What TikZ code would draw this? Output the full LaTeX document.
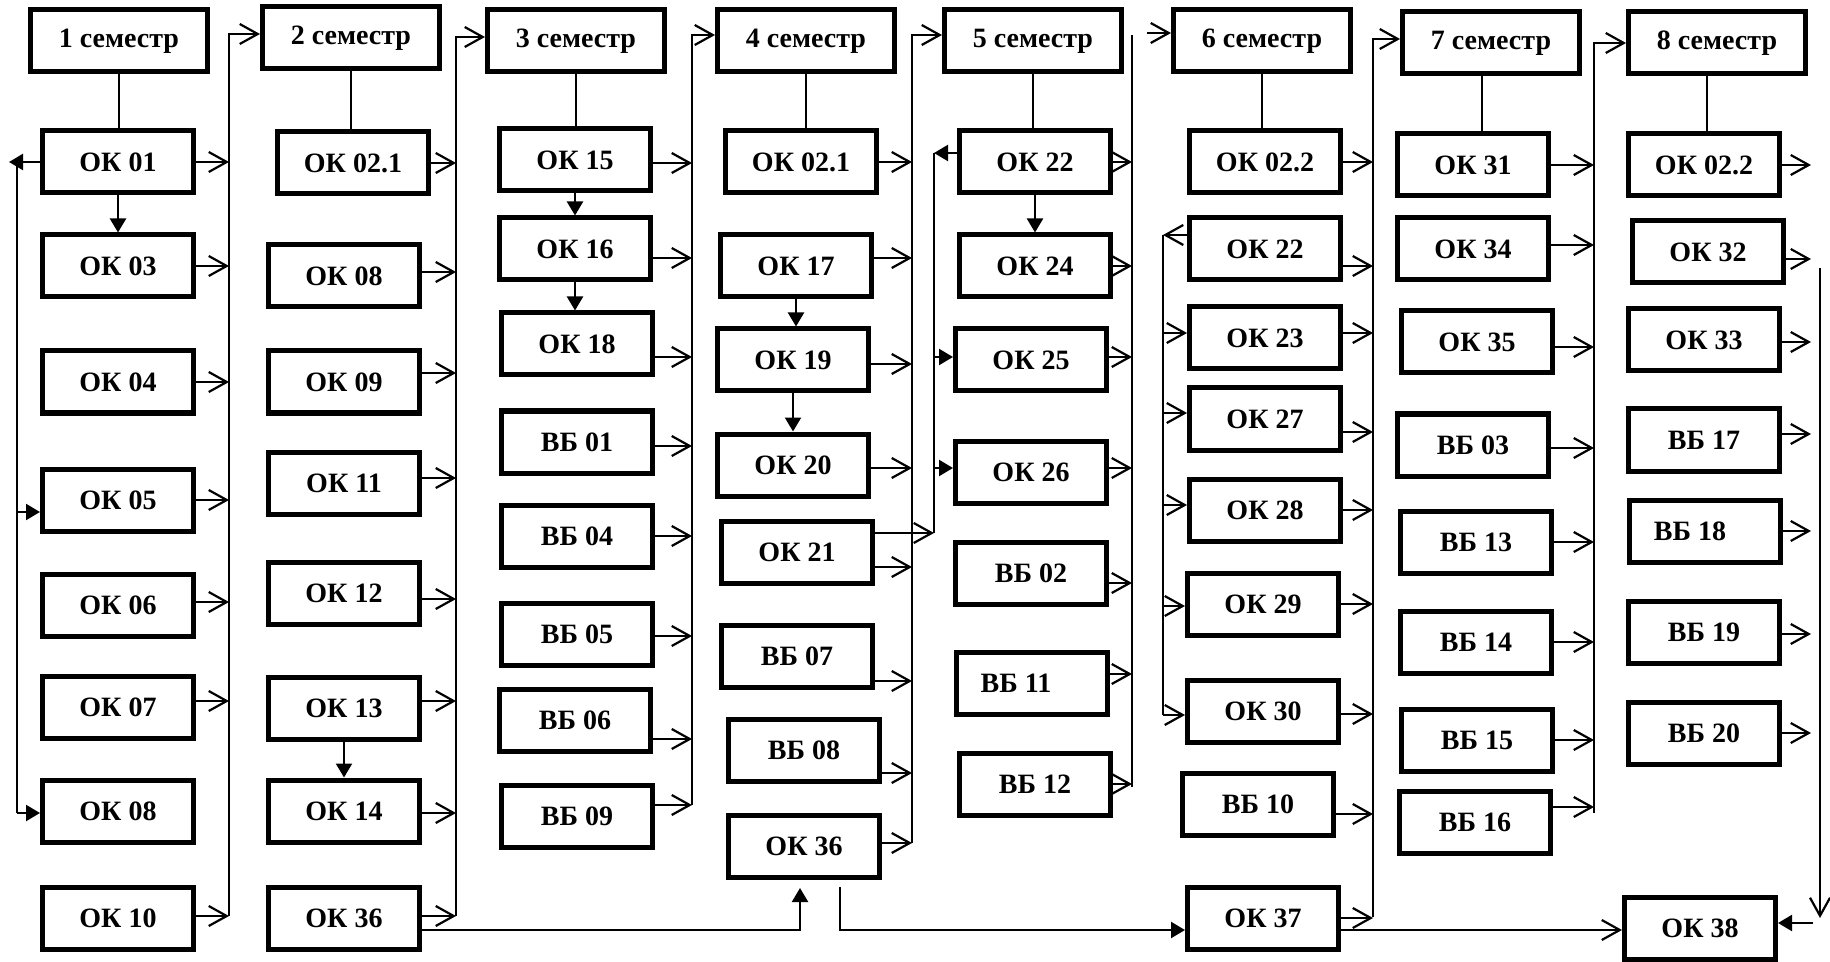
\documentclass[tikz,border=0pt]{standalone}
\usepackage{fontspec}
\setmainfont{Liberation Serif}
\usepackage{tikz}
\usetikzlibrary{arrows.meta}

\begin{document}
\begin{tikzpicture}[x=0.5pt, y=-0.5pt]
	\tikzstyle{box} = [rectangle, minimum width=75.5pt, minimum height=31pt, 
	inner sep=0pt, text centered, draw=black, line width=2.5pt, 
	font=\fontsize{14}{16}\selectfont\bfseries]
	\tikzstyle{semester} = [box, minimum width=88.5pt]
	\tikzstyle{bus} = [line width=1.1pt]
	\tikzstyle{arrow} = [bus, -{Straight Barb[length=9pt,width=10pt]}]
	\tikzstyle{fillarrow} = [bus, -{Triangle[length=7pt,width=8pt]}]
	\useasboundingbox (0,0) rectangle (1830,962);
	% semester 1
	\node (sem1) [semester] at (119,41) {1 семестр};
	\node (ok01) [box] at (118,162) {ОК 01};
	\node (ok03) [box] at (118,266) {ОК 03};
	\node (ok04) [box] at (118,382) {ОК 04};
	\node (ok05) [box] at (118,500) {ОК 05};
	\node (ok06) [box] at (118,605) {ОК 06};
	\node (ok07) [box] at (118,707) {ОК 07};
	\node (ok08a) [box] at (118,811) {ОК 08};
	\node (ok10) [box] at (118,918) {ОК 10};
	% semester 2
	\node (sem2) [semester] at (351,38) {2 семестр};
	\node (ok021a) [box] at (353,163) {ОК 02.1};
	\node (ok08b) [box] at (344,276) {ОК 08};
	\node (ok09) [box] at (344,382) {ОК 09};
	\node (ok11) [box] at (344,483) {ОК 11};
	\node (ok12) [box] at (344,593) {ОК 12};
	\node (ok13) [box] at (344,708) {ОК 13};
	\node (ok14) [box] at (344,811) {ОК 14};
	\node (ok36a) [box] at (344,918) {ОК 36};
	% semester 3
	\node (sem3) [semester] at (576,41) {3 семестр};
	\node (ok15) [box] at (575,160) {ОК 15};
	\node (ok16) [box] at (575,249) {ОК 16};
	\node (ok18) [box] at (577,344) {ОК 18};
	\node (vb01) [box] at (577,442) {ВБ 01};
	\node (vb04) [box] at (577,536) {ВБ 04};
	\node (vb05) [box] at (577,634) {ВБ 05};
	\node (vb06) [box] at (575,720) {ВБ 06};
	\node (vb09) [box] at (577,816) {ВБ 09};
	% semester 4
	\node (sem4) [semester] at (806,41) {4 семестр};
	\node (ok021b) [box] at (801,162) {ОК 02.1};
	\node (ok17) [box] at (796,266) {ОК 17};
	\node (ok19) [box] at (793,360) {ОК 19};
	\node (ok20) [box] at (793,465) {ОК 20};
	\node (ok21) [box] at (797,552) {ОК 21};
	\node (vb07) [box] at (797,656) {ВБ 07};
	\node (vb08) [box] at (804,750) {ВБ 08};
	\node (ok36b) [box] at (804,846) {ОК 36};
	% semester 5
	\node (sem5) [semester] at (1033,41) {5 семестр};
	\node (ok22a) [box] at (1035,162) {ОК 22};
	\node (ok24) [box] at (1035,266) {ОК 24};
	\node (ok25) [box] at (1031,360) {ОК 25};
	\node (ok26) [box] at (1031,472) {ОК 26};
	\node (vb02) [box] at (1031,573) {ВБ 02};
	\node (vb11) [box] at (1032,683) {ВБ 11\hspace*{16pt}};
	\node (vb12) [box] at (1035,784) {ВБ 12};
	% semester 6
	\node (sem6) [semester] at (1262,41) {6 семестр};
	\node (ok022a) [box] at (1265,162) {ОК 02.2};
	\node (ok22b) [box] at (1265,249) {ОК 22};
	\node (ok23) [box] at (1265,338) {ОК 23};
	\node (ok27) [box] at (1265,419) {ОК 27};
	\node (ok28) [box] at (1265,510) {ОК 28};
	\node (ok29) [box] at (1263,604) {ОК 29};
	\node (ok30) [box] at (1263,711) {ОК 30};
	\node (vb10) [box] at (1258,804) {ВБ 10};
	\node (ok37) [box] at (1263,918) {ОК 37};
	% semester 7
	\node (sem7) [semester] at (1491,43) {7 семестр};
	\node (ok31) [box] at (1473,165) {ОК 31};
	\node (ok34) [box] at (1473,249) {ОК 34};
	\node (ok35) [box] at (1477,342) {ОК 35};
	\node (vb03) [box] at (1473,445) {ВБ 03};
	\node (vb13) [box] at (1476,542) {ВБ 13};
	\node (vb14) [box] at (1476,642) {ВБ 14};
	\node (vb15) [box] at (1477,740) {ВБ 15};
	\node (vb16) [box] at (1475,822) {ВБ 16};
	% semester 8
	\node (sem8) [semester] at (1717,43) {8 семестр};
	\node (ok022b) [box] at (1704,165) {ОК 02.2};
	\node (ok32) [box] at (1708,252) {ОК 32};
	\node (ok33) [box] at (1704,340) {ОК 33};
	\node (vb17) [box] at (1704,440) {ВБ 17};
	\node (vb18) [box] at (1705,531) {ВБ 18\hspace*{15pt}};
	\node (vb19) [box] at (1704,632) {ВБ 19};
	\node (vb20) [box] at (1704,733) {ВБ 20};
	\node (ok38) [box] at (1700,928) {ОК 38};
	% bus lines
	\coordinate (bus1) at (229,34);  \coordinate (bus1end) at (229,916);
	\coordinate (bus2) at (456,37);  \coordinate (bus2end) at (456,916);
	\coordinate (bus3) at (692,35);  \coordinate (bus3end) at (692,805);
	\coordinate (bus4) at (912,35);  \coordinate (bus4end) at (912,843);
	\coordinate (bus5) at (1132,35); \coordinate (bus5end) at (1132,787);
	\coordinate (jump5) at (1147,33);
	\coordinate (bus6) at (1373,39); \coordinate (bus6end) at (1373,917);
	\coordinate (bus7) at (1594,43); \coordinate (bus7end) at (1594,813);
	\coordinate (bus8) at (1820,268); \coordinate (bus8end) at (1820,918);
	\coordinate (stop8) at (1811,0);
	\coordinate (loop1) at (17,165); \coordinate (loop1end) at (17,813);
	\coordinate (loop1tip) at (9,162);
	\coordinate (loop5) at (934,153); \coordinate (loop5end) at (934,533);
	\coordinate (loop6) at (1163,235); \coordinate (loop6end) at (1163,715);
	\coordinate (up36) at (800,888);
	\coordinate (down36) at (840,887);
	\coordinate (tip38) at (1813,923);
	\draw [arrow] (bus1end) -- (bus1) -- (bus1 -| sem2.west);
	\draw [arrow] (bus2end) -- (bus2) -- (bus2 -| sem3.west);
	\draw [arrow] (bus3end) -- (bus3) -- (bus3 -| sem4.west);
	\draw [arrow] (bus4end) -- (bus4) -- (bus4 -| sem5.west);
	\draw [bus] (bus5end) -- (bus5);
	\draw [arrow] (jump5) -- (jump5 -| sem6.west);
	\draw [arrow] (bus6end) -- (bus6) -- (bus6 -| sem7.west);
	\draw [arrow] (bus7end) -- (bus7) -- (bus7 -| sem8.west);
	\draw [arrow] (bus8) -- (bus8end);
	% semester to first course
	\draw [bus] (sem1.south) -- (sem1.south |- ok01.north);
	\draw [bus] (sem2.south) -- (sem2.south |- ok021a.north);
	\draw [bus] (sem3.south) -- (sem3.south |- ok15.north);
	\draw [bus] (sem4.south) -- (sem4.south |- ok021b.north);
	\draw [bus] (sem5.south) -- (sem5.south |- ok22a.north);
	\draw [bus] (sem6.south) -- (sem6.south |- ok022a.north);
	\draw [bus] ([xshift=-4.5pt]sem7.south) -- ([xshift=-4.5pt]sem7.south |- ok31.north);
	\draw [bus] ([xshift=-5pt]sem8.south) -- ([xshift=-5pt]sem8.south |- ok022b.north);
	% vertical links
	\draw [fillarrow] (ok01.south) -- (ok01.south |- ok03.north);
	\draw [fillarrow] (ok13.south) -- (ok13.south |- ok14.north);
	\draw [fillarrow] (ok15.south) -- (ok15.south |- ok16.north);
	\draw [fillarrow] (ok16.south) -- (ok16.south |- ok18.north);
	\draw [fillarrow] (ok17.south) -- (ok17.south |- ok19.north);
	\draw [fillarrow] (ok19.south) -- (ok19.south |- ok20.north);
	\draw [fillarrow] (ok22a.south) -- (ok22a.south |- ok24.north);
	% left loops
	\draw [fillarrow] (ok01.west) -- (loop1tip);
	\draw [bus] (loop1) -- (loop1end);
	\draw [fillarrow] ([yshift=-6pt]ok05.west -| loop1) -- ([yshift=-6pt]ok05.west);
	\draw [fillarrow] (loop1end) -- (loop1end -| ok08a.west);
	\draw [fillarrow] ([yshift=4.5pt]ok22a.west) -- ([yshift=4.5pt]ok22a.west -| loop5);
	\draw [bus] (loop5) -- (loop5end);
	\draw [fillarrow] ([yshift=1.5pt]ok25.west -| loop5) -- ([yshift=1.5pt]ok25.west);
	\draw [fillarrow] ([yshift=2pt]ok26.west -| loop5) -- ([yshift=2pt]ok26.west);
	\draw [arrow] ([yshift=9.5pt]ok21.east) -- ([yshift=9.5pt]ok21.east -| loop5);
	\draw [arrow] ([yshift=7pt]ok22b.west) -- ([yshift=7pt]ok22b.west -| loop6);
	\draw [bus] (loop6) -- (loop6end);
	\draw [arrow] ([yshift=2.5pt]ok23.west -| loop6) -- ([yshift=2.5pt]ok23.west);
	\draw [arrow] ([yshift=3pt]ok27.west -| loop6) -- ([yshift=3pt]ok27.west);
	\draw [arrow] ([yshift=2.5pt]ok28.west -| loop6) -- ([yshift=2.5pt]ok28.west);
	\draw [arrow] ([yshift=-1pt]ok29.west -| loop6) -- ([yshift=-1pt]ok29.west);
	\draw [arrow] ([yshift=-2pt]ok30.west -| loop6) -- ([yshift=-2pt]ok30.west);
	% semester 1 outputs
	\draw [arrow] (ok01.east) -- (ok01.east -| bus1);
	\draw [arrow] (ok03.east) -- (ok03.east -| bus1);
	\draw [arrow] (ok04.east) -- (ok04.east -| bus1);
	\draw [arrow] (ok05.east) -- (ok05.east -| bus1);
	\draw [arrow] ([yshift=1.5pt]ok06.east) -- ([yshift=1.5pt]ok06.east -| bus1);
	\draw [arrow] ([yshift=3pt]ok07.east) -- ([yshift=3pt]ok07.east -| bus1);
	\draw [arrow] ([yshift=1pt]ok10.east) -- ([yshift=1pt]ok10.east -| bus1);
	% semester 2 outputs
	\draw [arrow] (ok021a.east) -- (ok021a.east -| bus2);
	\draw [arrow] ([yshift=2pt]ok08b.east) -- ([yshift=2pt]ok08b.east -| bus2);
	\draw [arrow] ([yshift=4.5pt]ok09.east) -- ([yshift=4.5pt]ok09.east -| bus2);
	\draw [arrow] ([yshift=2.5pt]ok11.east) -- ([yshift=2.5pt]ok11.east -| bus2);
	\draw [arrow] ([yshift=-3pt]ok12.east) -- ([yshift=-3pt]ok12.east -| bus2);
	\draw [arrow] ([yshift=3.5pt]ok13.east) -- ([yshift=3.5pt]ok13.east -| bus2);
	\draw [arrow] ([yshift=-1pt]ok14.east) -- ([yshift=-1pt]ok14.east -| bus2);
	\draw [arrow] ([yshift=1pt]ok36a.east) -- ([yshift=1pt]ok36a.east -| bus2);
	% semester 3 outputs
	\draw [arrow] ([yshift=-1.5pt]ok15.east) -- ([yshift=-1.5pt]ok15.east -| bus3);
	\draw [arrow] ([yshift=-4.5pt]ok16.east) -- ([yshift=-4.5pt]ok16.east -| bus3);
	\draw [arrow] ([yshift=-6.5pt]ok18.east) -- ([yshift=-6.5pt]ok18.east -| bus3);
	\draw [arrow] ([yshift=-2pt]vb01.east) -- ([yshift=-2pt]vb01.east -| bus3);
	\draw [arrow] (vb04.east) -- (vb04.east -| bus3);
	\draw [arrow] ([yshift=-1pt]vb05.east) -- ([yshift=-1pt]vb05.east -| bus3);
	\draw [arrow] ([yshift=-9.5pt]vb06.east) -- ([yshift=-9.5pt]vb06.east -| bus3);
	\draw [arrow] ([yshift=5.5pt]vb09.east) -- ([yshift=5.5pt]vb09.east -| bus3);
	% semester 4 outputs
	\draw [arrow] (ok021b.east) -- (ok021b.east -| bus4);
	\draw [arrow] ([yshift=4pt]ok17.east) -- ([yshift=4pt]ok17.east -| bus4);
	\draw [arrow] ([yshift=-2pt]ok19.east) -- ([yshift=-2pt]ok19.east -| bus4);
	\draw [arrow] ([yshift=-1.5pt]ok20.east) -- ([yshift=-1.5pt]ok20.east -| bus4);
	\draw [arrow] ([yshift=-7.5pt]ok21.east) -- ([yshift=-7.5pt]ok21.east -| bus4);
	\draw [arrow] ([yshift=-12.5pt]vb07.east) -- ([yshift=-12.5pt]vb07.east -| bus4);
	\draw [arrow] ([yshift=-11.5pt]vb08.east) -- ([yshift=-11.5pt]vb08.east -| bus4);
	\draw [arrow] ([yshift=1.5pt]ok36b.east) -- ([yshift=1.5pt]ok36b.east -| bus4);
	% semester 5 outputs
	\draw [arrow] (ok22a.east) -- (ok22a.east -| bus5);
	\draw [arrow] (ok24.east) -- (ok24.east -| bus5);
	\draw [arrow] ([yshift=1.5pt]ok25.east) -- ([yshift=1.5pt]ok25.east -| bus5);
	\draw [arrow] ([yshift=2pt]ok26.east) -- ([yshift=2pt]ok26.east -| bus5);
	\draw [arrow] ([yshift=-5pt]vb02.east) -- ([yshift=-5pt]vb02.east -| bus5);
	\draw [arrow] ([yshift=4.5pt]vb11.east) -- ([yshift=4.5pt]vb11.east -| bus5);
	\draw [arrow] (vb12.east) -- (vb12.east -| bus5);
	% semester 6 outputs
	\draw [arrow] (ok022a.east) -- (ok022a.east -| bus6);
	\draw [arrow] ([yshift=-8.5pt]ok22b.east) -- ([yshift=-8.5pt]ok22b.east -| bus6);
	\draw [arrow] ([yshift=2.5pt]ok23.east) -- ([yshift=2.5pt]ok23.east -| bus6);
	\draw [arrow] ([yshift=-6.5pt]ok27.east) -- ([yshift=-6.5pt]ok27.east -| bus6);
	\draw [arrow] (ok28.east) -- (ok28.east -| bus6);
	\draw [arrow] (ok29.east) -- (ok29.east -| bus6);
	\draw [arrow] ([yshift=-1.5pt]ok30.east) -- ([yshift=-1.5pt]ok30.east -| bus6);
	\draw [arrow] ([yshift=-5pt]vb10.east) -- ([yshift=-5pt]vb10.east -| bus6);
	\draw [arrow] (ok37.east) -- (ok37.east -| bus6);
	% semester 7 outputs
	\draw [arrow] (ok31.east) -- (ok31.east -| bus7);
	\draw [arrow] ([yshift=2pt]ok34.east) -- ([yshift=2pt]ok34.east -| bus7);
	\draw [arrow] ([yshift=-2.5pt]ok35.east) -- ([yshift=-2.5pt]ok35.east -| bus7);
	\draw [arrow] ([yshift=-1.5pt]vb03.east) -- ([yshift=-1.5pt]vb03.east -| bus7);
	\draw [arrow] (vb13.east) -- (vb13.east -| bus7);
	\draw [arrow] (vb14.east) -- (vb14.east -| bus7);
	\draw [arrow] (vb15.east) -- (vb15.east -| bus7);
	\draw [arrow] ([yshift=7.5pt]vb16.east) -- ([yshift=7.5pt]vb16.east -| bus7);
	% semester 8 outputs
	\draw [arrow] (ok022b.east) -- (ok022b.east -| stop8);
	\draw [arrow] ([yshift=-3.5pt]ok32.east) -- ([yshift=-3.5pt]ok32.east -| stop8);
	\draw [arrow] ([yshift=-1pt]ok33.east) -- ([yshift=-1pt]ok33.east -| stop8);
	\draw [arrow] ([yshift=3pt]vb17.east) -- ([yshift=3pt]vb17.east -| stop8);
	\draw [arrow] (vb18.east) -- (vb18.east -| stop8);
	\draw [arrow] ([yshift=-1pt]vb19.east) -- ([yshift=-1pt]vb19.east -| stop8);
	\draw [arrow] (vb20.east) -- (vb20.east -| stop8);
	\draw [fillarrow] (tip38) -- (tip38 -| ok38.east);
	% long links at the bottom
	\draw [fillarrow] ([yshift=-6pt]ok36a.east) -| (up36);
	\draw [fillarrow] (down36) |- ([yshift=-6pt]ok37.west);
	\draw [arrow] ([yshift=-6pt]ok37.east) -- ([yshift=-6pt]ok37.east -| ok38.west);
\end{tikzpicture}
\end{document}
